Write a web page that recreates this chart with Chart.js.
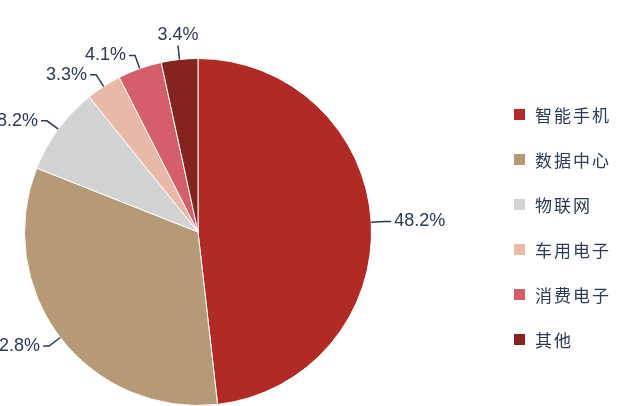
<!DOCTYPE html>
<html><head><meta charset="utf-8">
<script src="https://cdn.jsdelivr.net/npm/chart.js@4"></script>
<style>
body{margin:0;background:#fff;}
#wrap{position:relative;width:641px;height:406px;}
#legend{position:absolute;left:514px;top:92px;font-family:"Noto Sans CJK SC";font-size:17px;color:#2B3A55;}
#legend div{height:45px;display:flex;align-items:center;letter-spacing:2px;}
#legend span{display:inline-block;width:11px;height:11px;margin-right:10px;}
</style></head>
<body><div id="wrap"><canvas id="c" width="641" height="406"></canvas><div id="legend"></div></div>
<script>
const categories = ['智能手机','数据中心','物联网','车用电子','消费电子','其他'];
const shares = [48.2, 32.8, 8.2, 3.3, 4.1, 3.4];
const colors = ['#B22A26','#B69A78','#D3D3D3','#E8B8A8','#D45F6A','#85241F'];

const legend = document.getElementById('legend');
categories.forEach((c, i) => {
    legend.innerHTML += `<div><span style="background:${colors[i]}"></span>${c}</div>`;
});

// outside labels with short leader lines
const outLabels = {
    id: 'outLabels',
    afterDatasetsDraw(chart) {
        const ctx = chart.ctx;
        ctx.save();
        ctx.font = '18px "Liberation Sans", Arial';
        ctx.fillStyle = '#2B3A55';
        ctx.strokeStyle = '#2B3A55';
        ctx.lineWidth = 1.5;
        chart.getDatasetMeta(0).data.forEach((arc, i) => {
            const a = (arc.startAngle + arc.endAngle) / 2;
            const r = arc.outerRadius;
            const x1 = arc.x + Math.cos(a) * r, y1 = arc.y + Math.sin(a) * r;
            const x2 = arc.x + Math.cos(a) * (r + 14), y2 = arc.y + Math.sin(a) * (r + 14);
            const right = Math.cos(a) >= 0.05;
            const top = Math.abs(Math.cos(a)) < 0.3 && Math.sin(a) < 0;
            ctx.beginPath(); ctx.moveTo(x1, y1); ctx.lineTo(x2, y2);
            let tx = x2, ty = y2;
            if (!top) { tx = x2 + (right ? 6 : -6); ctx.lineTo(tx, y2); }
            ctx.stroke();
            const txt = shares[i].toFixed(1) + '%';
            if (top) {
                ctx.textAlign = 'center'; ctx.textBaseline = 'bottom';
                ctx.fillText(txt, x2, y2 - 2);
            } else {
                ctx.textAlign = right ? 'left' : 'right'; ctx.textBaseline = 'middle';
                ctx.fillText(txt, tx + (right ? 3 : -3), ty);
            }
        });
        ctx.restore();
    }
};

new Chart(document.getElementById('c'), {
    type: 'pie',
    data: {
        labels: categories,
        datasets: [{ data: shares, backgroundColor: colors, borderColor: '#fff', borderWidth: 1 }]
    },
    options: {
        responsive: false,
        animation: false,
        layout: { padding: { left: 24, right: 269, top: 58, bottom: 0 } },
        plugins: { legend: { display: false }, tooltip: { enabled: false } }
    },
    plugins: [outLabels]
});
</script></body></html>
